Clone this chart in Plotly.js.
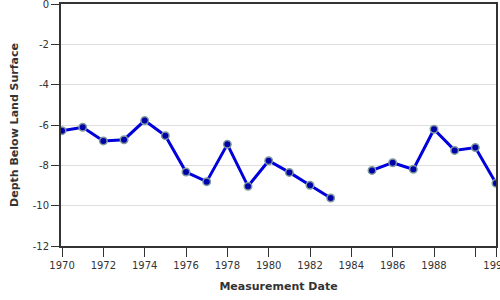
<!DOCTYPE html>
<html>
<head>
<meta charset="utf-8">
<script src="https://cdn.plot.ly/plotly-3.0.1.min.js"></script>
<style>html,body{margin:0;padding:0;background:#fff;}#chart{width:500px;height:300px;}</style>
</head>
<body>
<div id="chart"></div>
<script>
const years = [1970,1971,1972,1973,1974,1975,1976,1977,1978,1979,1980,1981,1982,1983,1984,1985,1986,1987,1988,1989,1990,1991];
const depths = [-6.28,-6.11,-6.79,-6.73,-5.78,-6.53,-8.33,-8.81,-6.96,-9.04,-7.77,-8.35,-8.99,-9.62,null,-8.25,-7.87,-8.20,-6.21,-7.26,-7.12,-8.89];
const xTickVals = [1970,1972,1974,1976,1978,1980,1982,1984,1986,1988,1990,1991];
const xTickText = ["1970","1972","1974","1976","1978","1980","1982","1984","1986","1988","","1991"];
const yTickVals = [0,-2,-4,-6,-8,-10,-12];
const yTickText = ["0","-2","-4","-6","-8","-10","-12"];

const trace = {
  x: years, y: depths, type: 'scatter', mode: 'lines+markers',
  connectgaps: false,
  line: {color: '#0000dd', width: 3},
  marker: {color: '#0000aa', size: 7.5, line: {color: '#7f9a9a', width: 1.5}},
  hoverinfo: 'none'
};
const font = {family: 'DejaVu Sans, Verdana, sans-serif', size: 10, color: '#333'};
const layout = {
  width: 500, height: 300,
  margin: {l: 61, r: 4, t: 4, b: 54},
  paper_bgcolor: '#fff', plot_bgcolor: '#fff',
  showlegend: false,
  font: font,
  xaxis: {
    range: [1969.95, 1991.0],
    tickmode: 'array', tickvals: xTickVals, ticktext: xTickText,
    ticks: 'outside', ticklen: 9, tickwidth: 1, tickcolor: '#333',
    ticklabeloverflow: 'allow',
    showgrid: false, zeroline: false,
    showline: true, linecolor: '#333', linewidth: 2, mirror: true,
    tickfont: {family: 'DejaVu Sans, sans-serif', size: 10, color: '#333'},
    title: {text: '<b>Measurement Date</b>', font: {family: 'DejaVu Sans, sans-serif', size: 11, color: '#333'}, standoff: 12}
  },
  yaxis: {
    range: [-12, 0],
    tickmode: 'array', tickvals: yTickVals, ticktext: yTickText,
    ticks: 'outside', ticklen: 8, tickwidth: 1, tickcolor: '#333',
    ticklabeloverflow: 'allow',
    showgrid: true, gridcolor: '#dddddd', gridwidth: 1, zeroline: false,
    showline: true, linecolor: '#333', linewidth: 2, mirror: true,
    tickfont: {family: 'DejaVu Sans, sans-serif', size: 10, color: '#333'},
    title: {text: '<b>Depth Below Land Surface</b>', font: {family: 'DejaVu Sans, sans-serif', size: 11, color: '#333'}, standoff: 12}
  }
};
Plotly.newPlot('chart', [trace], layout, {displayModeBar: false, staticPlot: true});
</script>
</body>
</html>
